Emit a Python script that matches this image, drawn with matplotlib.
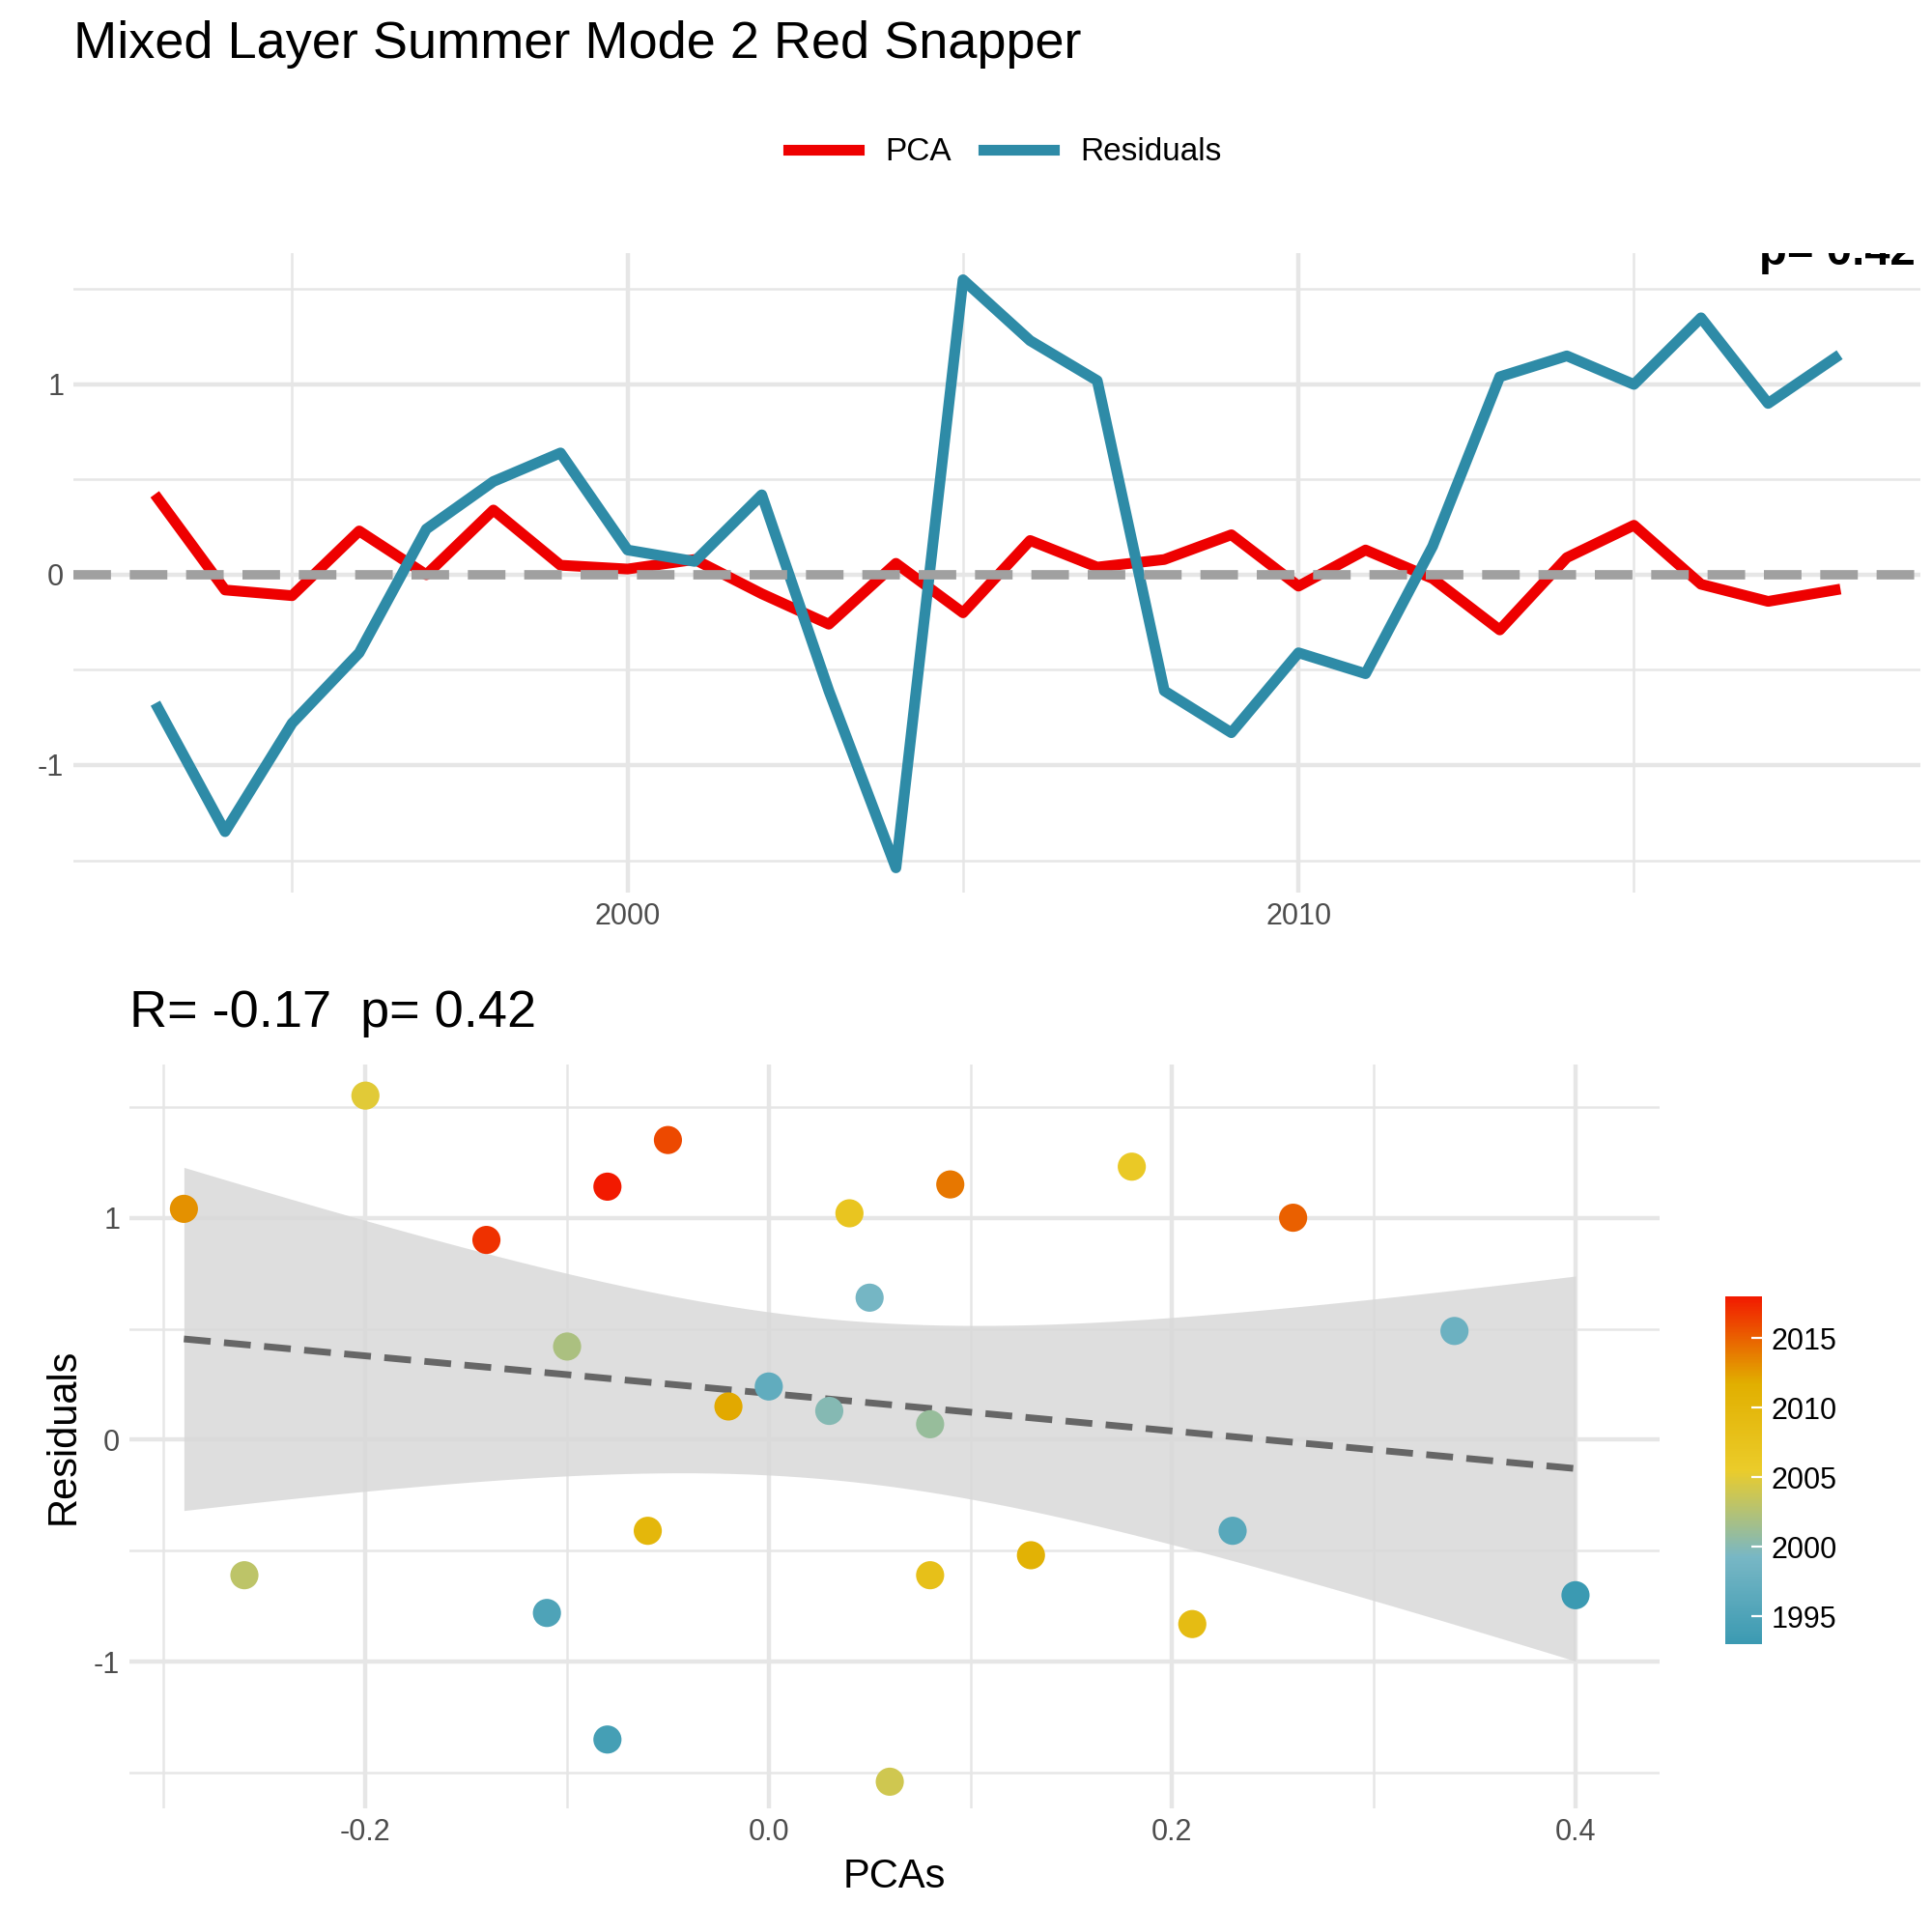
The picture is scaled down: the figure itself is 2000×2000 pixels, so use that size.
import numpy as np
import matplotlib.pyplot as plt
from matplotlib.colors import LinearSegmentedColormap

years = np.arange(1993, 2019)
pca = [0.40, -0.08, -0.11, 0.23, 0.0, 0.34, 0.05, 0.03, 0.08, -0.10, -0.26, 0.06, -0.20,
       0.18, 0.04, 0.08, 0.21, -0.06, 0.13, -0.02, -0.29, 0.09, 0.26, -0.05, -0.14, -0.08]
resid = [-0.70, -1.35, -0.78, -0.41, 0.24, 0.49, 0.64, 0.13, 0.07, 0.42, -0.61, -1.54, 1.55,
         1.23, 1.02, -0.61, -0.83, -0.41, -0.52, 0.15, 1.04, 1.15, 1.00, 1.35, 0.90, 1.14]
zissou = ["#3B9AB2", "#78B7C5", "#EBCC2A", "#E1AF00", "#F21A00"]

plt.rcParams['font.family'] = ['Liberation Sans', 'DejaVu Sans']
cmap = LinearSegmentedColormap.from_list('zissou', zissou)
grid = '#E6E6E6'

fig = plt.figure(figsize=(10, 10), dpi=200)
fig.text(0.038, 0.977, 'Mixed Layer Summer Mode 2 Red Snapper', fontsize=19.5, va='center')

# top panel
ax1 = fig.add_axes([0.038, 0.538, 0.956, 0.331])
ax1.plot(years, pca, color='#EE0000', lw=4, label='PCA', zorder=3)
ax1.plot(years, resid, color='#2E8BA7', lw=4, label='Residuals', zorder=3)
ax1.axhline(0, color='#A0A0A0', lw=3.5, ls=(0, (4, 2)), zorder=4)
ax1.set_xlim(1991.74, 2019.27)
ax1.set_ylim(-1.67, 1.69)
ax1.set_xticks([2000, 2010])
ax1.set_xticks([1995, 2005, 2015], minor=True)
ax1.set_yticks([-1, 0, 1])
ax1.set_yticklabels(['-1', '0', '1'])
ax1.set_yticks([-1.5, -0.5, 0.5, 1.5], minor=True)
ax1.grid(which='major', color=grid, lw=1.6)
ax1.grid(which='minor', color=grid, lw=0.9)
ax1.text(2019.2, 1.69, 'p= 0.42', fontsize=17, fontweight='bold', va='center', ha='right',
         clip_on=True, zorder=5)
for s in ax1.spines.values():
    s.set_visible(False)
ax1.tick_params(which='both', length=0, labelsize=11, colors='#4D4D4D')
fig.legend(*ax1.get_legend_handles_labels(), loc='center', bbox_to_anchor=(0.52, 0.921),
           ncol=2, frameon=False, fontsize=12, handlelength=2.2, columnspacing=1.0)

# bottom panel
ax2 = fig.add_axes([0.067, 0.064, 0.792, 0.385])
x = np.array(pca)
y = np.array(resid)
b, a = np.polyfit(x, y, 1)
xs = np.linspace(x.min(), x.max(), 80)
n = len(x)
se = np.sqrt(np.sum((y - (a + b * x)) ** 2) / (n - 2))
band = 2.064 * se * np.sqrt(1 / n + (xs - x.mean()) ** 2 / np.sum((x - x.mean()) ** 2))
ys = a + b * xs
ax2.fill_between(xs, ys - band, ys + band, color='#D9D9D9', alpha=0.85, lw=0, zorder=2)
ax2.plot(xs, ys, color='#666666', lw=2.5, ls=(0, (4, 2)), zorder=3)
sc = ax2.scatter(x, y, c=years, cmap=cmap, s=110, zorder=4, lw=0)
ax2.set_xlim(-0.317, 0.4417)
ax2.set_ylim(-1.66, 1.69)
ax2.set_xticks([-0.2, 0.0, 0.2, 0.4])
ax2.set_xticklabels(['-0.2', '0.0', '0.2', '0.4'])
ax2.set_xticks([-0.3, -0.1, 0.1, 0.3], minor=True)
ax2.set_yticks([-1, 0, 1])
ax2.set_yticklabels(['-1', '0', '1'])
ax2.set_yticks([-1.5, -0.5, 0.5, 1.5], minor=True)
ax2.grid(which='major', color=grid, lw=1.6)
ax2.grid(which='minor', color=grid, lw=0.9)
for s in ax2.spines.values():
    s.set_visible(False)
ax2.tick_params(which='both', length=0, labelsize=11, colors='#4D4D4D')
ax2.set_xlabel('PCAs', fontsize=15)
ax2.set_ylabel('Residuals', fontsize=15)
ax2.set_title('R= -0.17  p= 0.42', loc='left', fontsize=19.5, x=0.0, pad=14)

cax = fig.add_axes([0.893, 0.149, 0.019, 0.180])
cb = fig.colorbar(sc, cax=cax)
cb.set_ticks([1995, 2000, 2005, 2010, 2015])
cb.outline.set_visible(False)
cb.ax.tick_params(labelsize=11, length=4, color='white', direction='in')

fig.savefig('out.png')
